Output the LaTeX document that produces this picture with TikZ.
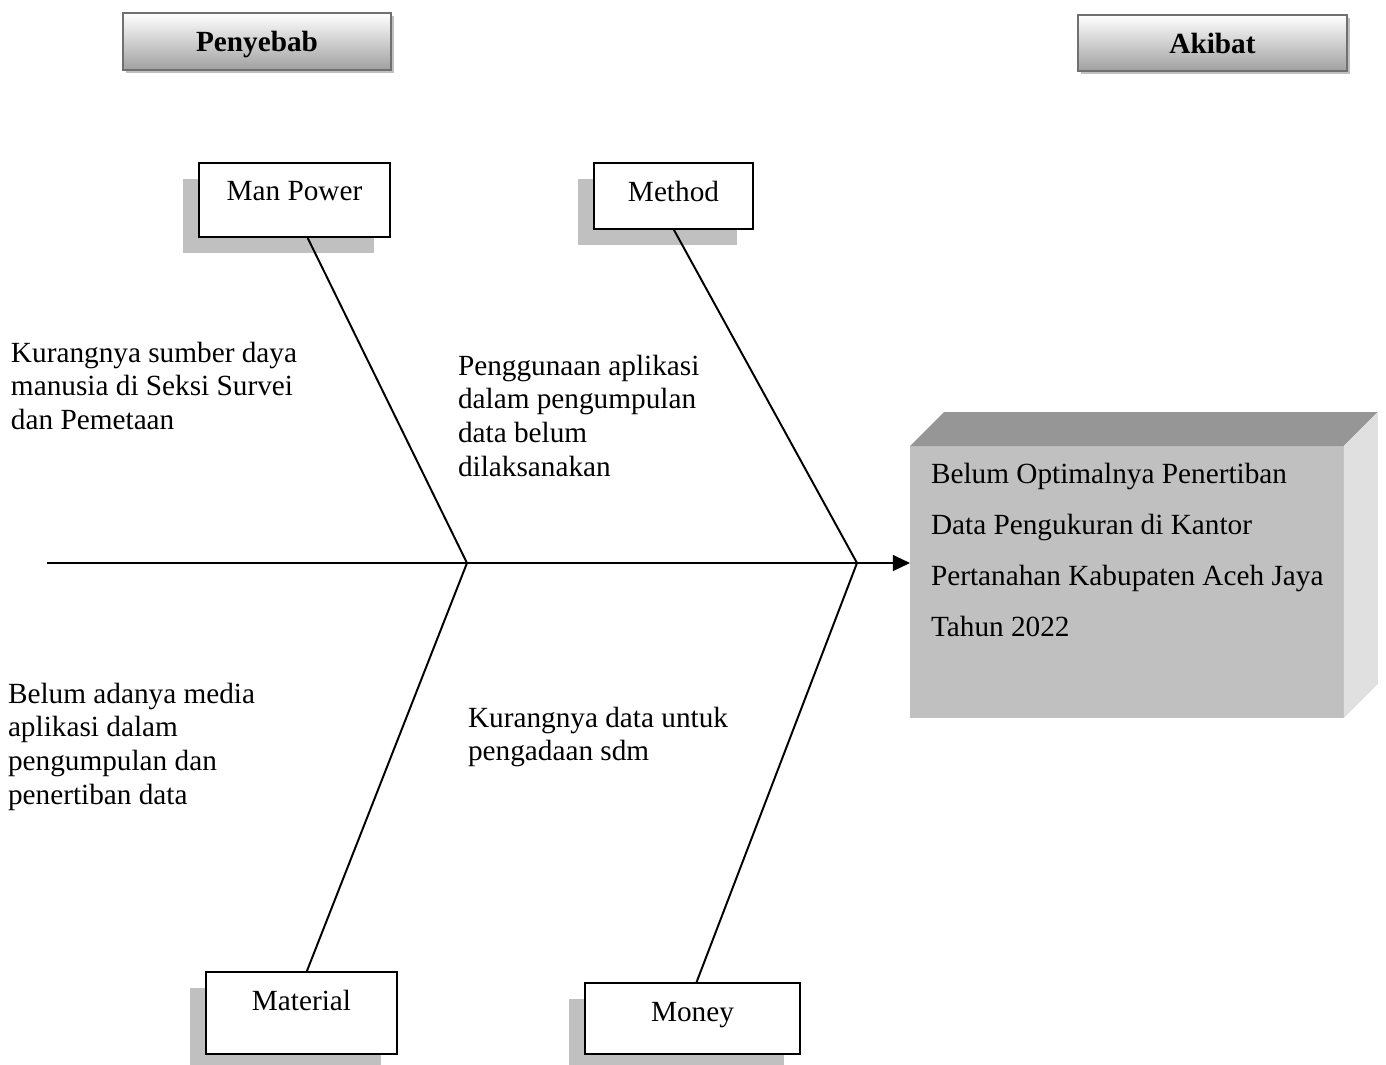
\documentclass[tikz,border=0pt]{standalone}
\usepackage{fontspec}
\setmainfont{Liberation Serif}
\usetikzlibrary{arrows.meta,shadows}

\definecolor{facegray}{HTML}{C0C0C0}
\definecolor{topgray}{HTML}{969696}
\definecolor{sidegray}{HTML}{E0E0E0}
\definecolor{shadowgray}{HTML}{C0C0C0}
\definecolor{framegray}{HTML}{707070}
\definecolor{headgray}{HTML}{A0A0A0}

\tikzset{
  every node/.style={font=\fontsize{12pt}{13.8pt}\selectfont, inner sep=0pt, outer sep=0pt},
  headbox/.style={draw=framegray, line width=1pt, top color=white, bottom color=headgray,
    font=\fontsize{12pt}{13.8pt}\selectfont\bfseries, text height=8.6pt, text depth=0pt,
    drop shadow={shadow xshift=1.3pt, shadow yshift=-1.3pt, fill=shadowgray, opacity=1}},
  causebox/.style={draw=black, line width=0.8pt, fill=white,
    drop shadow={shadow xshift=-6.6pt, shadow yshift=-6.6pt, fill=shadowgray, opacity=1}},
  causetext/.style={anchor=north west, align=left},
  bone/.style={black, line width=0.8pt},
  spine/.style={black, line width=1pt, -{Triangle[length=7pt,width=6.4pt]}},
}

\begin{document}
\begin{tikzpicture}[x=4.1pt,y=4.1pt]
      \useasboundingbox (0,0) rectangle (138.6,-106.5);
      % header boxes
      \node [headbox, minimum width=109.9pt, minimum height=23.4pt] (penyebab) at (25.7,-4.15) {Penyebab};
      \node [headbox, minimum width=110.3pt, minimum height=23pt] (akibat) at (121.25,-4.3) {Akibat};
      % effect block
      \node [fill=facegray, minimum width=177.9pt, minimum height=111.5pt] (effect) at (112.7,-58.2) {};
      \fill [topgray] (effect.north west) -- ++(3.4,3.4) -- ([shift={(3.4,3.4)}]effect.north east) -- (effect.north east) -- cycle;
      \fill [sidegray] (effect.north east) -- ++(3.4,3.4) -- ([shift={(3.4,3.4)}]effect.south east) -- (effect.south east) -- cycle;
      \node [causetext, font=\fontsize{12pt}{21pt}\selectfont] (effecttext) at (93.1,-46.3)
        {Belum Optimalnya Penertiban\\Data Pengukuran di Kantor\\Pertanahan Kabupaten Aceh Jaya\\Tahun 2022};
      % cause boxes
      \node [causebox, minimum width=78.3pt, text height=15.2pt, text depth=15.2pt] (manpower) at (29.45,-20) {Man Power};
      \node [causebox, minimum width=65.2pt, text height=16pt, text depth=11.1pt] (method) at (67.35,-19.6) {Method};
      \node [causebox, minimum width=78.3pt, text height=15.6pt, text depth=18pt] (material) at (30.15,-101.3) {Material};
      \node [causebox, minimum width=88.2pt, text height=15.6pt, text depth=13.5pt] (money) at (69.25,-101.85) {Money};
      % spine and bones
      \coordinate (tail) at (4.7,-56.3);
      \coordinate (j1) at (46.7,-56.3);
      \coordinate (j2) at (85.7,-56.3);
      \draw [spine] (tail) -- (tail -| effect.west);
      \draw [bone] (manpower.-71) -- (j1);
      \draw [bone] (method.south) -- (j2);
      \draw [bone] (j1) -- (material.83);
      \draw [bone] (j2) -- (money.84);
      % causes
      \node [causetext] (cause1) at (1.1,-34.2) {Kurangnya sumber daya\\manusia di Seksi Survei\\dan Pemetaan};
      \node [causetext] (cause2) at (45.8,-35.5) {Penggunaan aplikasi\\dalam pengumpulan\\data belum\\dilaksanakan};
      \node [causetext] (cause3) at (0.8,-68.3) {Belum adanya media\\aplikasi dalam\\pengumpulan dan\\penertiban data};
      \node [causetext] (cause4) at (46.8,-70.7) {Kurangnya data untuk\\pengadaan sdm};
\end{tikzpicture}
\end{document}
